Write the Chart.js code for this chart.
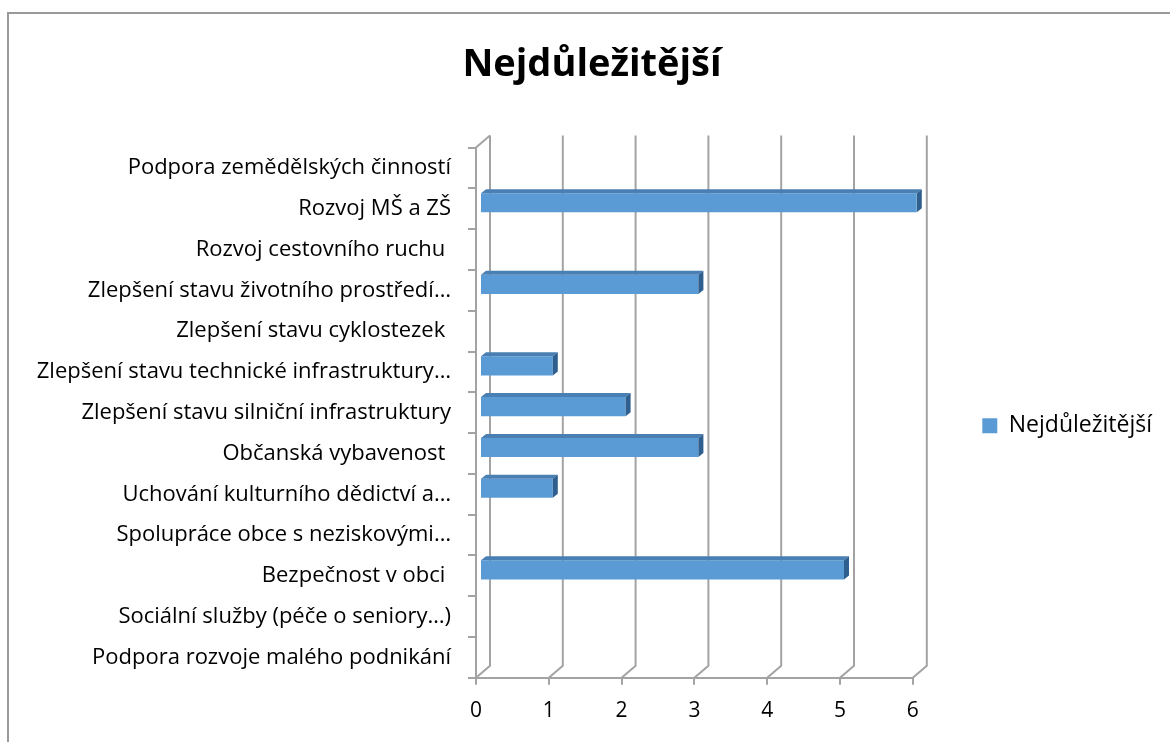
<!DOCTYPE html>
<html><head><meta charset="utf-8">
<script src="https://cdn.jsdelivr.net/npm/chart.js@4.4.1/dist/chart.umd.min.js"></script>
<style>
html,body{margin:0;padding:0;background:#fff;overflow:hidden;}
#wrap{position:relative;width:1170px;height:742px;background:#fff;}
#frame{position:absolute;left:7px;top:12px;width:1200px;height:800px;border-left:2px solid #999;border-top:2px solid #999;}
canvas{position:absolute;left:0;top:0;display:block;}
</style></head>
<body><div id="wrap"><div id="frame"></div><canvas id="c" width="1170" height="742"></canvas></div>
<script>
const categories = [
  "Podpora zemědělských činností",
  "Rozvoj MŠ a ZŠ",
  "Rozvoj cestovního ruchu ",
  "Zlepšení stavu životního prostředí…",
  "Zlepšení stavu cyklostezek ",
  "Zlepšení stavu technické infrastruktury…",
  "Zlepšení stavu silniční infrastruktury",
  "Občanská vybavenost ",
  "Uchování kulturního dědictví a…",
  "Spolupráce obce s neziskovými…",
  "Bezpečnost v obci ",
  "Sociální služby (péče o seniory…)",
  "Podpora rozvoje malého podnikání"
];
const seriesName = "Nejdůležitější";
const values = [0, 6, 0, 3, 0, 1, 2, 3, 1, 0, 5, 0, 0];
const xTicks = [0, 1, 2, 3, 4, 5, 6];

const FONT = "'Open Sans', 'Noto Sans', sans-serif";
const DX = 14, DY = 12; // depth of back wall
const BX = 4, BY = -6;  // bar depth offset
const SX = 5, SY = 4;   // bar side depth

const depthPlugin = {
  id: 'depth',
  beforeDatasetsDraw(chart) {
    const ctx = chart.ctx, ca = chart.chartArea, xs = chart.scales.x;
    ctx.save();
    ctx.strokeStyle = '#a3a3a3';
    ctx.lineWidth = 2;
    xTicks.forEach(v => {
      const x = xs.getPixelForValue(v);
      ctx.beginPath();
      ctx.moveTo(x, ca.bottom);
      ctx.lineTo(x + DX, ca.bottom - DY);
      ctx.lineTo(x + DX, ca.top - DY);
      ctx.stroke();
    });
    const x0 = xs.getPixelForValue(0);
    ctx.beginPath();
    ctx.moveTo(x0, ca.top);
    ctx.lineTo(x0 + DX, ca.top - DY);
    ctx.stroke();
    ctx.restore();
    ctx.save();
    ctx.translate(BX, BY);
  },
  afterDatasetsDraw(chart) {
    const ctx = chart.ctx;
    const meta = chart.getDatasetMeta(0);
    meta.data.forEach((bar, i) => {
      if (!values[i]) return;
      const p = bar.getProps(['x', 'y', 'base', 'height'], true);
      const top = p.y - p.height / 2, bot = p.y + p.height / 2;
      ctx.fillStyle = '#4a7fb3';
      ctx.beginPath();
      ctx.moveTo(p.base, top);
      ctx.lineTo(p.base + SX, top - SY);
      ctx.lineTo(p.x + SX, top - SY);
      ctx.lineTo(p.x, top);
      ctx.closePath();
      ctx.fill();
      ctx.fillStyle = '#2f5f8f';
      ctx.beginPath();
      ctx.moveTo(p.x, top);
      ctx.lineTo(p.x + SX, top - SY);
      ctx.lineTo(p.x + SX, bot - SY);
      ctx.lineTo(p.x, bot);
      ctx.closePath();
      ctx.fill();
    });
    ctx.restore();
  }
};

new Chart(document.getElementById('c'), {
  type: 'bar',
  data: {
    labels: categories,
    datasets: [{
      label: seriesName,
      data: values,
      backgroundColor: '#5b9bd5',
      borderWidth: 0,
      barPercentage: 0.47,
      categoryPercentage: 1.0
    }]
  },
  options: {
    indexAxis: 'y',
    responsive: false,
    animation: false,
    layout: { padding: { left: 22, right: 8, top: 0, bottom: 4 } },
    plugins: {
      title: {
        display: true,
        text: seriesName,
        color: '#000',
        font: { family: FONT, size: 38, weight: 'bold' },
        padding: { top: 42, bottom: 60 }
      },
      legend: {
        position: 'right',
        fullSize: false,
        title: { display: true, text: '', font: { size: 10 }, padding: 7 },
        labels: {
          color: '#000',
          font: { family: FONT, size: 23 },
          boxWidth: 15, boxHeight: 15,
          padding: 10
        }
      },
      tooltip: { enabled: false }
    },
    scales: {
      x: {
        min: 0, max: 6,
        ticks: { stepSize: 1, color: '#000', font: { family: FONT, size: 21 }, padding: 14 },
        grid: { drawOnChartArea: false, drawTicks: true, tickLength: 7, color: '#a3a3a3', lineWidth: 2 },
        border: { display: true, color: '#a3a3a3', width: 2 }
      },
      y: {
        afterFit(scale) { scale.width = 454; },
        ticks: { color: '#000', font: { family: FONT, size: 22 }, padding: 17, autoSkip: false },
        grid: { drawOnChartArea: false, drawTicks: true, tickLength: 8, color: '#a3a3a3', lineWidth: 2, offset: true },
        border: { display: true, color: '#a3a3a3', width: 2 }
      },
      spacer: {
        type: 'category',
        axis: 'y',
        position: 'right',
        labels: [''],
        afterFit(scale) { scale.width = 59.5; },
        ticks: { display: false },
        grid: { display: false },
        border: { display: false }
      }
    }
  },
  plugins: [depthPlugin]
});
</script></body></html>
